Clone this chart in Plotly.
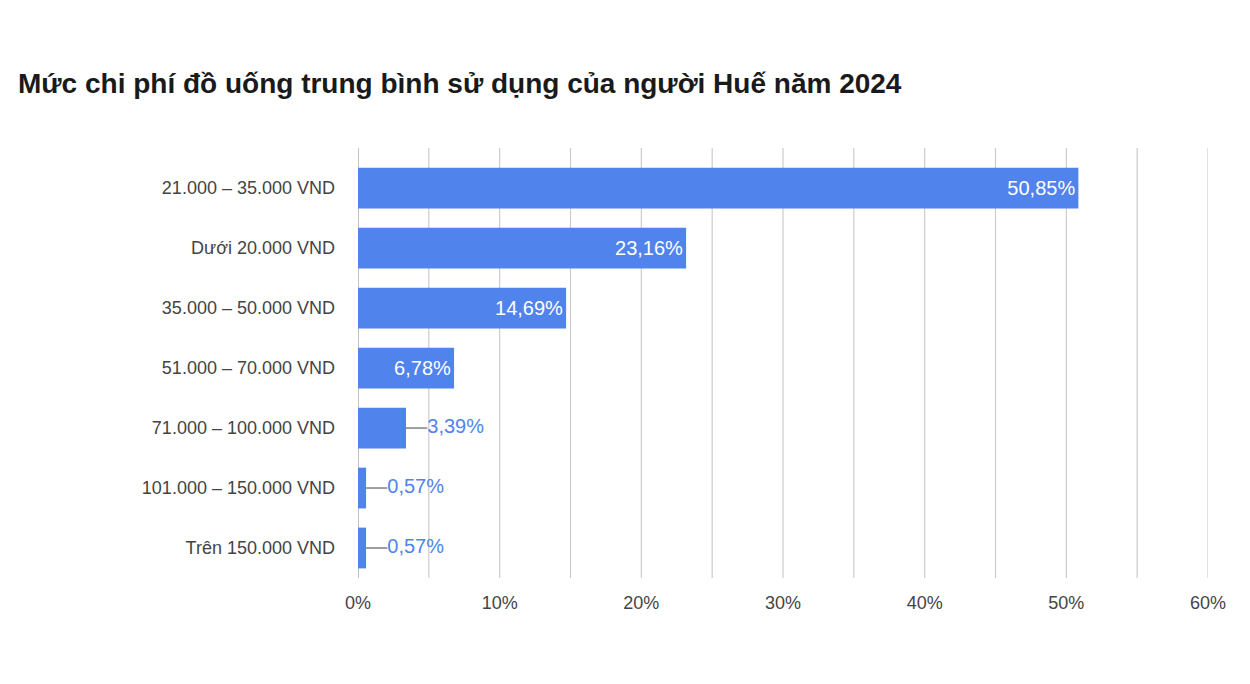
import plotly.graph_objects as go

categories = ["21.000 – 35.000 VND", "Dưới 20.000 VND", "35.000 – 50.000 VND",
              "51.000 – 70.000 VND", "71.000 – 100.000 VND", "101.000 – 150.000 VND",
              "Trên 150.000 VND"]
values = [50.85, 23.16, 14.69, 6.78, 3.39, 0.57, 0.57]
labels = ["50,85%", "23,16%", "14,69%", "6,78%", "3,39%", "0,57%", "0,57%"]
tick_vals = [0, 10, 20, 30, 40, 50, 60]
tick_text = ["0%", "10%", "20%", "30%", "40%", "50%", "60%"]

BLUE = "#5083ec"
FONT = "Liberation Sans, Arial, sans-serif"
inside = [v >= 5 for v in values]

fig = go.Figure()
fig.add_trace(go.Bar(
    x=values, y=categories, orientation="h", marker=dict(color=BLUE, line=dict(width=0)),
    text=[l if i else "" for l, i in zip(labels, inside)],
    textposition="inside", insidetextanchor="end",
    textfont=dict(color="white", size=20, family=FONT), width=0.68,
    hoverinfo="skip",
))
# leader lines + labels for small bars
lead = 1.5
for c, v, l, i in zip(categories, values, labels, inside):
    if i:
        continue
    fig.add_trace(go.Scatter(x=[v, v + lead], y=[c, c], mode="lines",
                             line=dict(color="#9e9e9e", width=2), hoverinfo="skip"))
    fig.add_trace(go.Scatter(x=[v + lead], y=[c], mode="text", text=[l],
                             textposition="middle right",
                             textfont=dict(color=BLUE, size=20, family=FONT), hoverinfo="skip"))

fig.update_layout(
    width=1250, height=684, showlegend=False,
    paper_bgcolor="white", plot_bgcolor="white",
    font=dict(family=FONT, color="#444444", size=18),
    margin=dict(l=350, r=50, t=140, b=114),
    title=dict(text="<b>Mức chi phí đồ uống trung bình sử dụng của người Huế năm 2024</b>",
               x=0.008, xanchor="left", y=0.89, yanchor="middle",
               font=dict(size=28, color="#1a1a1a", family=FONT)),
    bargap=0.32,
)
fig.update_xaxes(range=[0, 60], tickvals=tick_vals, ticktext=tick_text,
                 showgrid=False, zeroline=False, tickfont=dict(size=18, color="#444444"),
                 ticks="", ticklabelstandoff=12)
# gridlines every 5%
for g in range(0, 61, 5):
    fig.add_vline(x=g, line=dict(color="#cccccc" if g else "#999999", width=1.2), layer="below")
fig.update_yaxes(autorange=False, range=[6.5, -0.67], showgrid=False,
                 tickfont=dict(size=18, color="#444444"), ticks="", ticklabelstandoff=22)
fig.write_html("out.html")
